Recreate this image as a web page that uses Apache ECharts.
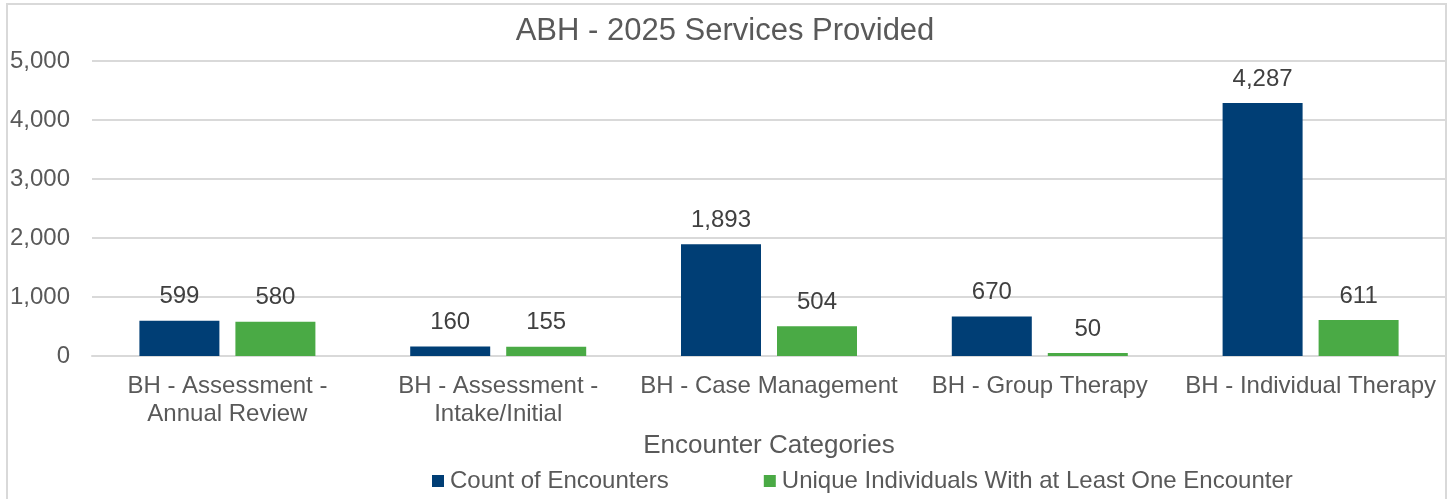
<!DOCTYPE html>
<html>
<head>
<meta charset="utf-8">
<script src="https://cdn.jsdelivr.net/npm/echarts@6/dist/echarts.min.js"></script>
<style>
  html, body { margin: 0; padding: 0; background: #fff; }
  #main { width: 1450px; height: 499px; }
</style>
</head>
<body>
<div id="main"></div>
<script>
// 数据
var categories = [
    'BH - Assessment -\nAnnual Review',
    'BH - Assessment -\nIntake/Initial',
    'BH - Case Management',
    'BH - Group Therapy',
    'BH - Individual Therapy'
];
var encounterCounts = [599, 160, 1893, 670, 4287];
var uniqueIndividuals = [580, 155, 504, 50, 611];
var yTicks = [0, 1000, 2000, 3000, 4000, 5000];

var textGray = '#595959';

function fmt(v) {
    return Number(v).toLocaleString('en-US');
}

var chart = echarts.init(document.getElementById('main'), null, { renderer: 'canvas' });

var option = {
    animation: false,
    textStyle: { fontFamily: 'Liberation Sans, Arial, sans-serif' },
    title: {
        text: 'ABH - 2025 Services Provided',
        left: 'center',
        top: 11,
        textStyle: { fontSize: 31, fontWeight: 'normal', color: textGray }
    },
    // 外框
    graphic: [{
        type: 'rect',
        shape: { x: 7, y: 4, width: 1439, height: 600 },
        style: { fill: 'none', stroke: '#d9d9d9', lineWidth: 2 },
        silent: true
    }],
    legend: {
        left: 427,
        top: 464,
        itemWidth: 12,
        itemHeight: 12,
        itemGap: 95,
        icon: 'rect',
        textStyle: { fontSize: 24, color: textGray, padding: [0, 0, 0, 1] },
        data: ['Count of Encounters', 'Unique Individuals With at Least One Encounter']
    },
    grid: {
        left: 92,
        right: 4,
        top: 61,
        bottom: 143
    },
    xAxis: {
        type: 'category',
        data: categories,
        name: 'Encounter Categories',
        nameLocation: 'middle',
        nameGap: 69,
        nameTextStyle: { fontSize: 26, color: textGray },
        axisLine: { show: true, lineStyle: { color: '#d9d9d9', width: 2 } },
        axisTick: { show: false },
        axisLabel: {
            fontSize: 24,
            color: textGray,
            margin: 16,
            lineHeight: 28,
            interval: 0
        }
    },
    yAxis: {
        type: 'value',
        min: yTicks[0],
        max: yTicks[yTicks.length - 1],
        interval: 1000,
        axisLine: { show: false },
        axisTick: { show: false },
        splitLine: { lineStyle: { color: '#d9d9d9', width: 2 } },
        axisLabel: {
            fontSize: 24,
            color: textGray,
            margin: 22,
            formatter: function (v) { return fmt(v); }
        }
    },
    series: [
        {
            name: 'Count of Encounters',
            type: 'bar',
            data: encounterCounts,
            barWidth: 80,
            barGap: '20%',
            itemStyle: { color: '#003e75' },
            label: {
                show: true,
                position: 'top',
                distance: 12,
                fontSize: 24,
                color: '#404040',
                formatter: function (p) { return fmt(p.value); }
            }
        },
        {
            name: 'Unique Individuals With at Least One Encounter',
            type: 'bar',
            data: uniqueIndividuals,
            barWidth: 80,
            barGap: '20%',
            itemStyle: { color: '#4aaa45' },
            label: {
                show: true,
                position: 'top',
                distance: 12,
                fontSize: 24,
                color: '#404040',
                formatter: function (p) { return fmt(p.value); }
            }
        }
    ]
};

chart.setOption(option);
</script>
</body>
</html>
